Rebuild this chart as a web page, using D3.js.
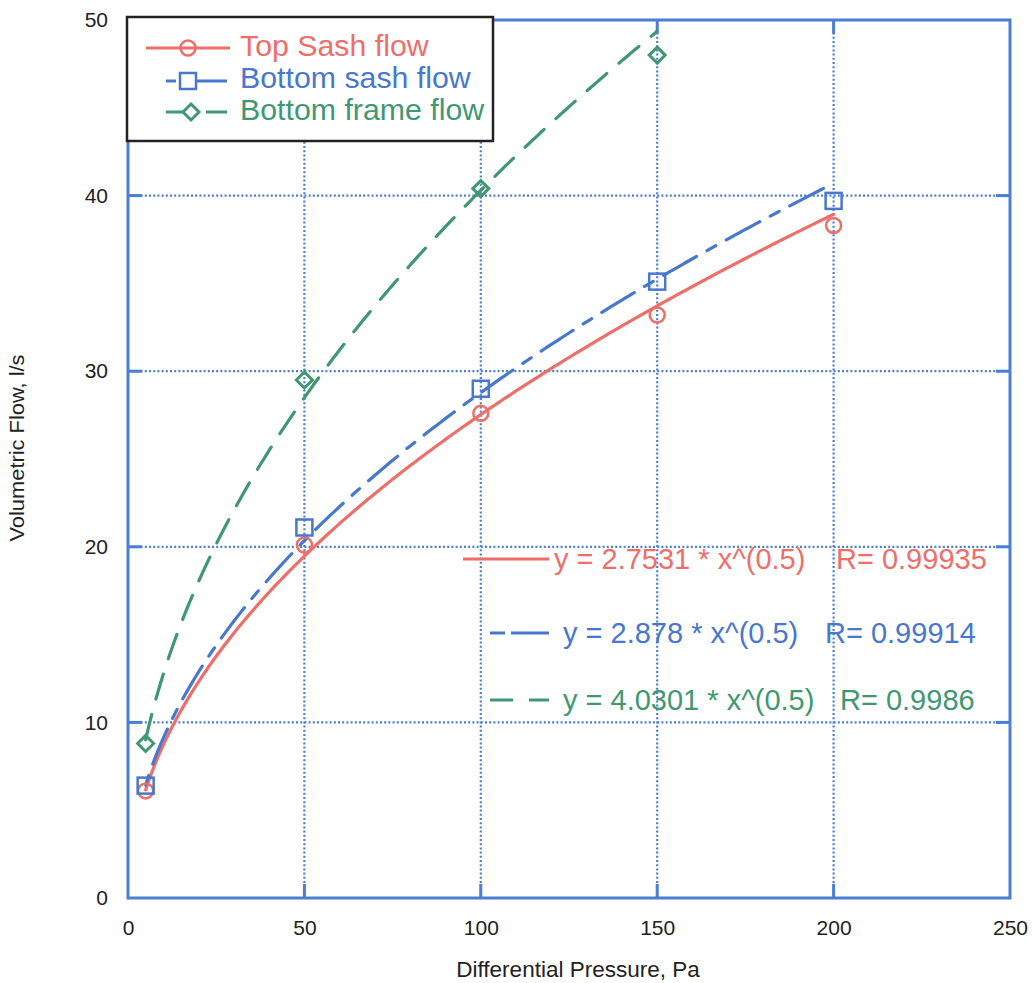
<!DOCTYPE html>
<html><head><meta charset="utf-8">
<script src="https://cdn.jsdelivr.net/npm/d3@7"></script>
<style>body{margin:0;background:#fff}svg{display:block;font-family:"Liberation Sans",Arial,sans-serif}</style>
</head><body><svg id="c" width="1032" height="983"></svg>
<script>
const pressure = [5, 50, 100, 150, 200];
const topSash = [6.1, 20.1, 27.6, 33.2, 38.3];
const bottomSash = [6.4, 21.1, 29.0, 35.1, 39.7];
const bottomFrameX = [5, 50, 100, 150];
const bottomFrame = [8.8, 29.5, 40.4, 48.0];
const seriesNames = ["Top Sash flow", "Bottom sash flow", "Bottom frame flow"];
const fitCoef = [2.7531, 2.878, 4.0301];
const fitR = ["0.99935", "0.99914", "0.9986"];
const fitCoefLabel = ["2.7531", "2.878", "4.0301"];
const fitMaxX = [200, 200, 150];
const xTicks = [0, 50, 100, 150, 200, 250];
const yTicks = [0, 10, 20, 30, 40, 50];

const colors = ["#ee6e6a", "#4778cd", "#3f9873"];
const frameColor = "#4a7fd3";
const svg = d3.select("#c");
const L = 128, R = 1010, T = 20, B = 898;
const x = d3.scaleLinear().domain([0, 250]).range([L, R]);
const y = d3.scaleLinear().domain([0, 50]).range([B, T]);

// grid
const g = svg.append("g");
g.selectAll(".gx").data(xTicks.filter(d => d > 0 && d < 250)).join("line")
  .attr("x1", d => x(d)).attr("x2", d => x(d)).attr("y1", T).attr("y2", B)
  .attr("stroke", frameColor).attr("stroke-width", 2.2).attr("stroke-dasharray", "2,2.2");
g.selectAll(".gy").data(yTicks.filter(d => d > 0 && d < 50)).join("line")
  .attr("y1", d => y(d)).attr("y2", d => y(d)).attr("x1", L).attr("x2", R)
  .attr("stroke", frameColor).attr("stroke-width", 2.2).attr("stroke-dasharray", "2,2.2");

// axes with inside ticks
const tl = 14;
const ax = d3.axisBottom(x).tickValues(xTicks).tickSize(0).tickPadding(22).tickFormat(d3.format("d"));
const axG = svg.append("g").attr("transform", `translate(0,${B})`).call(ax);
const ay = d3.axisLeft(y).tickValues(yTicks).tickSize(0).tickPadding(20).tickFormat(d3.format("d"));
const ayG = svg.append("g").attr("transform", `translate(${L},0)`).call(ay);
[axG, ayG].forEach(a => {
  a.select(".domain").remove();
  a.selectAll("text").attr("font-size", 21).attr("fill", "#222").attr("font-family", "Liberation Sans, Arial, sans-serif");
});
const tk = svg.append("g").attr("stroke", frameColor).attr("stroke-width", 3);
xTicks.filter(d => d > 0 && d < 250).forEach(d => {
  tk.append("line").attr("x1", x(d)).attr("x2", x(d)).attr("y1", B).attr("y2", B - tl);
  tk.append("line").attr("x1", x(d)).attr("x2", x(d)).attr("y1", T).attr("y2", T + tl);
});
yTicks.filter(d => d > 0 && d < 50).forEach(d => {
  tk.append("line").attr("y1", y(d)).attr("y2", y(d)).attr("x1", L).attr("x2", L + tl);
  tk.append("line").attr("y1", y(d)).attr("y2", y(d)).attr("x1", R).attr("x2", R - tl);
});
svg.append("rect").attr("x", L).attr("y", T).attr("width", R - L).attr("height", B - T)
  .attr("fill", "none").attr("stroke", frameColor).attr("stroke-width", 3);

// fit curves
const dashes = [null, "10,12,38,12", "26,16"];
fitCoef.forEach((a, i) => {
  const pts = d3.range(5, fitMaxX[i] + 0.001, 1).map(v => [v, a * Math.sqrt(v)]);
  svg.append("path").datum(pts)
    .attr("d", d3.line().x(d => x(d[0])).y(d => y(d[1])).curve(d3.curveMonotoneX))
    .attr("fill", "none").attr("stroke", colors[i]).attr("stroke-width", 3.2)
    .attr("stroke-dasharray", dashes[i]).attr("stroke-linecap", "round");
});

// markers
function marker(sel, type, cx, cy, col) {
  if (type === 0) sel.append("circle").attr("cx", cx).attr("cy", cy).attr("r", 7.5)
    .attr("fill", "none").attr("stroke", col).attr("stroke-width", 2.5);
  else if (type === 1) sel.append("rect").attr("x", cx - 8).attr("y", cy - 8).attr("width", 16).attr("height", 16)
    .attr("fill", "none").attr("stroke", col).attr("stroke-width", 2.5);
  else sel.append("path").attr("d", `M${cx},${cy - 8}L${cx + 8},${cy}L${cx},${cy + 8}L${cx - 8},${cy}Z`)
    .attr("fill", "none").attr("stroke", col).attr("stroke-width", 3);
}
const mk = svg.append("g");
pressure.forEach((p, j) => marker(mk, 0, x(p), y(topSash[j]), colors[0]));
pressure.forEach((p, j) => marker(mk, 1, x(p), y(bottomSash[j]), colors[1]));
bottomFrameX.forEach((p, j) => marker(mk, 2, x(p), y(bottomFrame[j]), colors[2]));

// legend
const lg = svg.append("g");
lg.append("rect").attr("x", 127).attr("y", 17).attr("width", 366).attr("height", 124)
  .attr("fill", "#fff").attr("stroke", "#222").attr("stroke-width", 2.5);
const rowY = [48, 81, 112];
const rowBase = [56, 88, 120];
lg.append("line").attr("x1", 146).attr("x2", 230).attr("y1", rowY[0]).attr("y2", rowY[0]).attr("stroke", colors[0]).attr("stroke-width", 3);
marker(lg, 0, 188, rowY[0], colors[0]);
lg.append("line").attr("x1", 166).attr("x2", 176).attr("y1", rowY[1]).attr("y2", rowY[1]).attr("stroke", colors[1]).attr("stroke-width", 3);
lg.append("line").attr("x1", 196).attr("x2", 227).attr("y1", rowY[1]).attr("y2", rowY[1]).attr("stroke", colors[1]).attr("stroke-width", 3);
marker(lg, 1, 188, rowY[1], colors[1]);
lg.append("line").attr("x1", 166).attr("x2", 183).attr("y1", rowY[2]).attr("y2", rowY[2]).attr("stroke", colors[2]).attr("stroke-width", 3);
lg.append("line").attr("x1", 206).attr("x2", 227).attr("y1", rowY[2]).attr("y2", rowY[2]).attr("stroke", colors[2]).attr("stroke-width", 3);
marker(lg, 2, 191, rowY[2], colors[2]);
seriesNames.forEach((n, i) => {
  lg.append("text").attr("x", 240).attr("y", rowBase[i]).attr("font-size", 30.3)
    .attr("fill", colors[i]).text(n);
});

// fit equations
const eq = svg.append("g");
const eqY = [559, 633, 700];
const eqX = [554, 563, 563];
const rX = [836, 825, 840];
eq.append("line").attr("x1", 463).attr("x2", 549).attr("y1", eqY[0]).attr("y2", eqY[0]).attr("stroke", colors[0]).attr("stroke-width", 3);
eq.append("line").attr("x1", 490).attr("x2", 505).attr("y1", eqY[1]).attr("y2", eqY[1]).attr("stroke", colors[1]).attr("stroke-width", 3);
eq.append("line").attr("x1", 511).attr("x2", 549).attr("y1", eqY[1]).attr("y2", eqY[1]).attr("stroke", colors[1]).attr("stroke-width", 3);
eq.append("line").attr("x1", 490).attr("x2", 513).attr("y1", eqY[2]).attr("y2", eqY[2]).attr("stroke", colors[2]).attr("stroke-width", 3);
eq.append("line").attr("x1", 529).attr("x2", 549).attr("y1", eqY[2]).attr("y2", eqY[2]).attr("stroke", colors[2]).attr("stroke-width", 3);
fitCoefLabel.forEach((c, i) => {
  eq.append("text").attr("x", eqX[i]).attr("y", eqY[i] + 10).attr("font-size", 29).attr("fill", colors[i])
    .text(`y = ${c} * x^(0.5)`);
  eq.append("text").attr("x", rX[i]).attr("y", eqY[i] + 10).attr("font-size", 29).attr("fill", colors[i])
    .text(`R= ${fitR[i]}`);
});

// axis titles
svg.append("text").attr("x", 578).attr("y", 977).attr("text-anchor", "middle").attr("font-size", 22.5)
  .attr("fill", "#222").text("Differential Pressure, Pa");
svg.append("text").attr("transform", "translate(24,448) rotate(-90)").attr("text-anchor", "middle")
  .attr("font-size", 21).attr("fill", "#222").attr("textLength", 187).attr("lengthAdjust", "spacingAndGlyphs")
  .text("Volumetric Flow, l/s");
</script></body></html>
